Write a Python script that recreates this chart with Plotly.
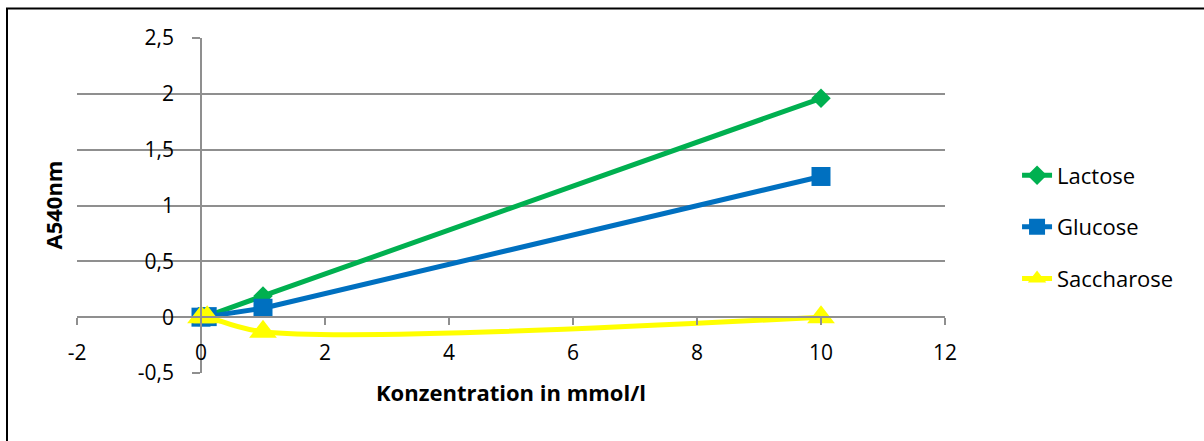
import plotly.graph_objects as go

# Messwerte: Extinktion bei 540 nm gegen Zuckerkonzentration
concentration = [0, 0.1, 1, 10]
lactose = [0, 0.01, 0.19, 1.96]
glucose = [0, 0.005, 0.08, 1.26]
saccharose = [0, 0.0, -0.13, 0.0]

x_ticks = [-2, 0, 2, 4, 6, 8, 10, 12]
x_tick_text = ["-2", "0", "2", "4", "6", "8", "10", "12"]
y_ticks = [-0.5, 0, 0.5, 1, 1.5, 2, 2.5]
y_tick_text = ["-0,5", "0", "0,5", "1", "1,5", "2", "2,5"]

FONT = "Open Sans"
GRID = "#8f8f8f"

fig = go.Figure()
fig.add_trace(go.Scatter(
    x=concentration, y=lactose, name="Lactose", mode="lines+markers",
    line=dict(color="#00B050", width=5),
    marker=dict(symbol="diamond", size=15, color="#00B050"),
    legendgroup="a"))
fig.add_trace(go.Scatter(
    x=concentration, y=glucose, name="Glucose", mode="lines+markers",
    line=dict(color="#0070C0", width=5),
    marker=dict(symbol="square", size=19, color="#0070C0"),
    legendgroup="b"))
fig.add_trace(go.Scatter(
    x=concentration, y=saccharose, name="Saccharose", mode="lines+markers",
    line=dict(color="#FFFF00", width=5, shape="spline", smoothing=1),
    marker=dict(symbol="triangle-up", size=24, color="#FFFF00"),
    legendgroup="c"))

fig.update_layout(
    width=1204, height=441,
    margin=dict(l=77, r=259, t=37.5, b=67.5, autoexpand=False),
    paper_bgcolor="white", plot_bgcolor="white",
    font=dict(family=FONT, size=21, color="black"),
    showlegend=True,
    legend=dict(x=1.083, y=0.436, yanchor="middle", xanchor="left",
                font=dict(family=FONT, size=22), tracegroupgap=20,
                bgcolor="rgba(0,0,0,0)"),
    xaxis=dict(range=[-2, 12], tickvals=x_ticks, ticktext=x_tick_text,
               anchor="free", position=1 / 6, showgrid=False, zeroline=False,
               showline=True, linecolor=GRID, linewidth=1.5,
               ticks="outside", ticklen=7, tickcolor=GRID, tickwidth=1.5,
               ticklabelstandoff=10, tickfont=dict(size=21)),
    yaxis=dict(range=[-0.5, 2.5], tickvals=y_ticks, ticktext=y_tick_text,
               anchor="free", position=2 / 14, showgrid=True, gridcolor=GRID,
               gridwidth=1.5, zeroline=False,
               showline=True, linecolor=GRID, linewidth=1.5,
               ticks="outside", ticklen=8, tickcolor=GRID, tickwidth=1.5,
               ticklabelstandoff=14, tickfont=dict(size=21)),
    annotations=[
        dict(text="<b>Konzentration in mmol/l</b>", xref="paper", yref="paper",
             x=0.5, y=0, xanchor="center", yanchor="top", yshift=-2,
             showarrow=False, font=dict(family=FONT, size=22)),
        dict(text="<b>A540nm</b>", xref="paper", yref="paper",
             x=0, y=0.5, xanchor="center", yanchor="middle", xshift=-25,
             textangle=-90, showarrow=False, font=dict(family=FONT, size=22)),
    ],
    shapes=[dict(type="rect", xref="paper", yref="paper",
                 x0=(7 - 77) / 868, x1=(1215 - 77) / 868,
                 y0=(373.5 - 460) / 336, y1=(373.5 - 8) / 336,
                 line=dict(color="black", width=2), layer="below")],
)

fig.write_html("out.html")
